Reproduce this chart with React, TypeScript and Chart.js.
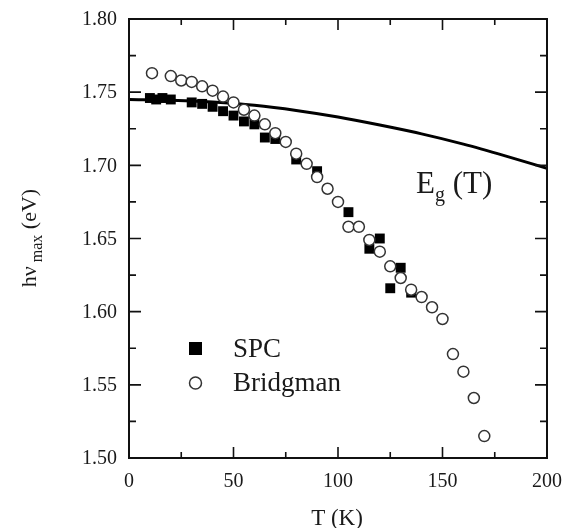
import React, { useEffect, useRef } from "react";
import { Chart, registerables } from "chart.js";

Chart.register(...registerables);

// Eg(T) curve
const egT = [0, 20, 40, 60, 80, 100, 120, 140, 160, 180, 200];
const egV = [1.745, 1.7445, 1.7432, 1.741, 1.7375, 1.733, 1.7275, 1.7215, 1.7145, 1.7065, 1.698];

// SPC (filled squares)
const spcT = [10, 13, 16, 20, 30, 35, 40, 45, 50, 55, 60, 65, 70, 80, 90, 105, 115, 120, 125, 130, 135];
const spcV = [1.746, 1.745, 1.746, 1.745, 1.743, 1.742, 1.740, 1.737, 1.734, 1.730, 1.728, 1.719, 1.718, 1.704, 1.696, 1.668, 1.643, 1.650, 1.616, 1.630, 1.613];

// Bridgman (open circles)
const brT = [11, 20, 25, 30, 35, 40, 45, 50, 55, 60, 65, 70, 75, 80, 85, 90, 95, 100, 105, 110, 115, 120, 125, 130, 135, 140, 145, 150, 155, 160, 165, 170];
const brV = [1.763, 1.761, 1.758, 1.757, 1.754, 1.751, 1.747, 1.743, 1.738, 1.734, 1.728, 1.722, 1.716, 1.708, 1.701, 1.692, 1.684, 1.675, 1.658, 1.658, 1.649, 1.641, 1.631, 1.623, 1.615, 1.610, 1.603, 1.595, 1.571, 1.559, 1.541, 1.515];

// axis ticks
const xTickLabels = ["0", "50", "100", "150", "200"];
const xTickValues = [0, 50, 100, 150, 200];
const yTickLabels = ["1.50", "1.55", "1.60", "1.65", "1.70", "1.75", "1.80"];
const yTickValues = [1.5, 1.55, 1.6, 1.65, 1.7, 1.75, 1.8];
const xMinorValues = [25, 75, 125, 175];
const yMinorValues = [1.525, 1.575, 1.625, 1.675, 1.725, 1.775];

const seriesNames = ["SPC", "Bridgman"];
const xTitle = "T (K)";
const curveLabel = ["E", "g", " (T)"];
const yTitleParts = ["hν", "max", " (eV)"];

const SERIF = "'Liberation Serif', 'DejaVu Serif', serif";
const INK = "#1a1a1a";

const framePlugin = {
  id: "frame",
  afterDraw(chart: any) {
    const ctx = chart.ctx;
    const { left, right, top, bottom } = chart.chartArea;
    const xs = chart.scales.x;
    const ys = chart.scales.y;
    ctx.save();
    ctx.strokeStyle = "#111";
    ctx.lineWidth = 2;
    ctx.strokeRect(left, top, right - left, bottom - top);
    ctx.lineWidth = 1.6;
    const xTick = (v: number, len: number) => {
      const px = xs.getPixelForValue(v);
      ctx.beginPath();
      ctx.moveTo(px, bottom);
      ctx.lineTo(px, bottom - len);
      ctx.moveTo(px, top);
      ctx.lineTo(px, top + len);
      ctx.stroke();
    };
    const yTick = (v: number, len: number) => {
      const py = ys.getPixelForValue(v);
      ctx.beginPath();
      ctx.moveTo(left, py);
      ctx.lineTo(left + len, py);
      ctx.moveTo(right, py);
      ctx.lineTo(right - len, py);
      ctx.stroke();
    };
    xTickValues.forEach((v) => xTick(v, 11));
    xMinorValues.forEach((v) => xTick(v, 6));
    yTickValues.forEach((v) => yTick(v, 12));
    yMinorValues.forEach((v) => yTick(v, 7));

    // tick labels
    ctx.fillStyle = INK;
    ctx.font = `20px ${SERIF}`;
    ctx.textBaseline = "middle";
    ctx.textAlign = "right";
    yTickValues.forEach((v, i) => {
      ctx.fillText(yTickLabels[i], left - 12, ys.getPixelForValue(v) + 1);
    });
    ctx.textAlign = "center";
    xTickValues.forEach((v, i) => {
      ctx.fillText(xTickLabels[i], xs.getPixelForValue(v), bottom + 24);
    });

    // x title
    ctx.textBaseline = "alphabetic";
    ctx.font = `23px ${SERIF}`;
    ctx.textAlign = "center";
    ctx.fillText(xTitle, 337, 525);

    // y title (rotated)
    ctx.save();
    ctx.translate(36, 238);
    ctx.rotate(-Math.PI / 2);
    ctx.textAlign = "left";
    const f1 = `22px ${SERIF}`;
    const f2 = `16px ${SERIF}`;
    ctx.font = f1;
    const w1 = ctx.measureText(yTitleParts[0]).width;
    ctx.font = f2;
    const w2 = ctx.measureText(" " + yTitleParts[1]).width;
    ctx.font = f1;
    const w3 = ctx.measureText(yTitleParts[2]).width;
    const total = w1 + w2 + w3;
    let cx = -total / 2;
    ctx.font = f1;
    ctx.fillText(yTitleParts[0], cx, 0);
    cx += w1;
    ctx.font = f2;
    ctx.fillText(" " + yTitleParts[1], cx, 6);
    cx += w2;
    ctx.font = f1;
    ctx.fillText(yTitleParts[2], cx, 0);
    ctx.restore();

    // Eg(T) label
    ctx.textAlign = "left";
    ctx.font = `31px ${SERIF}`;
    ctx.fillText(curveLabel[0], 416, 193);
    const we = ctx.measureText(curveLabel[0]).width;
    ctx.font = `20px ${SERIF}`;
    ctx.fillText(curveLabel[1], 416 + we, 201);
    const wg = ctx.measureText(curveLabel[1]).width;
    ctx.font = `31px ${SERIF}`;
    ctx.fillText(curveLabel[2], 416 + we + wg, 193);

    // legend
    ctx.fillStyle = "#000";
    ctx.fillRect(189, 342, 13, 13);
    ctx.beginPath();
    ctx.arc(195.5, 383, 6, 0, Math.PI * 2);
    ctx.fillStyle = "#fff";
    ctx.fill();
    ctx.strokeStyle = "#333";
    ctx.lineWidth = 1.5;
    ctx.stroke();
    ctx.fillStyle = INK;
    ctx.font = `27px ${SERIF}`;
    ctx.textBaseline = "middle";
    ctx.fillText(seriesNames[0], 233, 350);
    ctx.fillText(seriesNames[1], 233, 384);
    ctx.restore();
  },
};

export default function App() {
  const ref = useRef<HTMLCanvasElement>(null);
  useEffect(() => {
    const canvas = ref.current;
    if (!canvas) return;
    const chart = new Chart(canvas, {
      type: "scatter",
      data: {
        datasets: [
          {
            label: seriesNames[1],
            data: brT.map((t, i) => ({ x: t, y: brV[i] })),
            pointStyle: "circle",
            pointRadius: 5.5,
            backgroundColor: "#fff",
            borderColor: "#333",
            borderWidth: 1.5,
            showLine: false,
          },
          {
            label: seriesNames[0],
            data: spcT.map((t, i) => ({ x: t, y: spcV[i] })),
            pointStyle: "rect",
            pointRadius: 7,
            backgroundColor: "#000",
            borderColor: "#000",
            borderWidth: 0,
            showLine: false,
          },
          {
            label: "Eg(T)",
            data: egT.map((t, i) => ({ x: t, y: egV[i] })),
            showLine: true,
            pointRadius: 0,
            borderColor: "#000",
            borderWidth: 3,
            cubicInterpolationMode: "monotone",
            fill: false,
          },
        ],
      },
      options: {
        animation: false,
        responsive: false,
        maintainAspectRatio: false,
        layout: { padding: { top: 19, right: 24, left: 0, bottom: 0 } },
        plugins: {
          legend: { display: false },
          tooltip: { enabled: false },
        },
        scales: {
          x: {
            type: "linear",
            min: 0,
            max: 200,
            grid: { display: false, drawTicks: false },
            border: { display: false },
            ticks: { display: false },
            afterFit: (s: any) => {
              s.height = 70;
            },
          },
          y: {
            type: "linear",
            min: 1.5,
            max: 1.8,
            grid: { display: false, drawTicks: false },
            border: { display: false },
            ticks: { display: false },
            afterFit: (s: any) => {
              s.width = 129;
            },
          },
        },
      },
      plugins: [framePlugin],
    });
    return () => chart.destroy();
  }, []);
  return (
    <div style={{ position: "fixed", left: 0, top: 0, width: 571, height: 528, background: "#fff" }}>
      <canvas ref={ref} width={571} height={528} style={{ width: 571, height: 528, display: "block" }} />
    </div>
  );
}
